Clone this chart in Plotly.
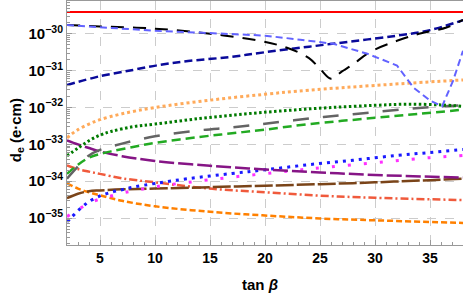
import plotly.graph_objects as go

# log10 of d_e (e·cm), as (tan beta, log10 value) lists
red_x = [2, 38]
red_y = [-29.41, -29.41]

lblue_x = [2, 5, 10, 15, 20, 23.2, 26.2, 29.3, 32, 33.5, 35, 36.1, 37.1, 38]
lblue_y = [-29.76, -29.82, -29.92, -29.98, -30.05, -30.16, -30.27, -30.54, -30.86, -31.46, -31.81, -31.97, -31.27, -30.46]

black_x = [2, 5, 10, 15, 19.5, 22, 24, 25, 26, 27, 28, 29.5, 32, 34, 36.5, 38]
black_y = [-29.76, -29.8, -29.86, -30.0, -30.19, -30.38, -30.66, -30.95, -31.22, -31.02, -30.83, -30.5, -30.19, -30.0, -29.83, -29.62]

navy_x = [2, 5, 8, 10.5, 13, 16.8, 20, 24, 28, 32, 35, 38]
navy_y = [-31.39, -31.15, -30.98, -30.84, -30.74, -30.63, -30.5, -30.35, -30.2, -30.05, -29.9, -29.63]

lorange_x = [2, 3, 4, 5, 7, 10, 15, 20, 24, 30, 38]
lorange_y = [-32.82, -32.6, -32.45, -32.33, -32.17, -32.0, -31.8, -31.64, -31.53, -31.4, -31.25]

dgreen_x = [2, 3, 4, 5, 6, 8, 10, 14, 18, 22, 26, 30, 33, 36, 38]
dgreen_y = [-33.31, -33.1, -32.9, -32.75, -32.65, -32.52, -32.45, -32.3, -32.18, -32.08, -32.0, -31.94, -31.91, -31.93, -31.97]

gray_x = [2, 3, 4, 5, 7, 10, 14, 17, 20, 24, 28, 33, 36, 38]
gray_y = [-33.93, -33.6, -33.3, -33.15, -32.98, -32.78, -32.62, -32.54, -32.44, -32.3, -32.18, -32.04, -31.97, -31.94]

green_x = [2, 3, 4, 5, 6, 8, 10, 14, 17, 20, 24, 30, 34, 38]
green_y = [-33.8, -33.55, -33.36, -33.26, -33.19, -33.07, -32.96, -32.8, -32.7, -32.6, -32.45, -32.28, -32.17, -32.06]

purple_x = [2, 3, 4, 5, 7, 10, 15, 20, 25, 30, 38]
purple_y = [-32.89, -33.0, -33.1, -33.19, -33.32, -33.45, -33.58, -33.68, -33.76, -33.83, -33.9]

tomato_x = [2, 3, 4, 5, 7, 10, 15, 20, 25, 30, 38]
tomato_y = [-33.57, -33.67, -33.74, -33.8, -33.92, -34.03, -34.2, -34.3, -34.39, -34.45, -34.51]

dorange_x = [2, 3, 4, 5, 7, 10, 15, 20, 25, 30, 38]
dorange_y = [-34.06, -34.2, -34.3, -34.38, -34.53, -34.68, -34.83, -34.93, -35.01, -35.06, -35.13]

brown_x = [2, 3, 4, 5, 7, 10, 15, 20, 25, 30, 35, 38]
brown_y = [-34.46, -34.34, -34.27, -34.25, -34.22, -34.2, -34.16, -34.12, -34.08, -34.03, -33.97, -33.93]

bdots_x = [2, 2.5, 3, 3.5, 4, 5, 6, 7, 8, 10, 13, 17, 20, 24, 28, 32, 35, 38]
bdots_y = [-35.1, -34.95, -34.8, -34.67, -34.55, -34.4, -34.3, -34.23, -34.16, -34.06, -33.93, -33.79, -33.69, -33.55, -33.43, -33.3, -33.22, -33.14]

mdots_x = [2, 3, 4, 5, 6, 7, 8, 10, 13, 17, 22, 26, 31, 35, 38]
mdots_y = [-34.96, -34.77, -34.6, -34.48, -34.4, -34.32, -34.26, -34.15, -34.03, -33.89, -33.73, -33.61, -33.47, -33.36, -33.3]

ytick_exp = [-35, -34, -33, -32, -31, -30]
xtick_vals = [5, 10, 15, 20, 25, 30, 35]

series = [
    (dorange_x, dorange_y, "#ff8000", "6px,3px", 2.5, "spline"),
    (tomato_x, tomato_y, "#f05a3c", "8px,3px,2px,3px", 2.5, "spline"),
    (brown_x, brown_y, "#7a4419", "18px,3px", 2.5, "spline"),
    (mdots_x, mdots_y, "#ff30ff", "3px,13px", 3, "spline"),
    (bdots_x, bdots_y, "#1a1aff", "3px,5px", 3, "spline"),
    (purple_x, purple_y, "#861586", "15px,4px", 2.5, "spline"),
    (green_x, green_y, "#22aa22", "9px,5px", 2.5, "spline"),
    (gray_x, gray_y, "#646464", "16px,14px", 2.5, "spline"),
    (dgreen_x, dgreen_y, "#007a00", "2.5px,2.5px", 3, "spline"),
    (lorange_x, lorange_y, "#ffaa5a", "3px,3px", 3, "spline"),
    (navy_x, navy_y, "#0a0a9a", "8px,4px", 2.5, "spline"),
    (black_x, black_y, "#000000", "13px,9px", 2, "spline"),
    (lblue_x, lblue_y, "#6262ff", "7px,4px", 2, "linear"),
    (red_x, red_y, "#ff0000", "solid", 2, "linear"),
]

fig = go.Figure()
for xs, ys, col, dash, w, shape in series:
    fig.add_trace(go.Scatter(
        x=xs, y=[10 ** v for v in ys], mode="lines",
        line=dict(color=col, dash=dash, width=w, shape=shape),
        showlegend=False, hoverinfo="skip"))

fig.update_layout(
    width=463, height=294,
    margin=dict(l=67, r=0, t=1, b=49),
    paper_bgcolor="white", plot_bgcolor="white",
    font=dict(family="Liberation Sans, Arial, sans-serif", size=14, color="black"),
)
fig.update_xaxes(
    range=[2, 38], tickvals=xtick_vals,
    ticktext=[f"<b>{v}</b>" for v in xtick_vals],
    ticks="inside", ticklen=5, tickcolor="#999999",
    showline=True, linecolor="#999999", linewidth=1, mirror=True,
    showgrid=True, gridcolor="#cccccc", griddash="dash", gridwidth=1,
    zeroline=False, tickfont=dict(size=14),
    minor=dict(dtick=1, ticks="inside", ticklen=3, tickcolor="#999999", showgrid=False),
)
fig.update_yaxes(
    type="log", range=[-35.73, -29.11],
    tickvals=[10 ** e for e in ytick_exp],
    ticktext=[f"<b>10<sup>\u2212{-e}</sup></b>" for e in ytick_exp],
    ticks="inside", ticklen=5, tickcolor="#999999",
    showline=True, linecolor="#999999", linewidth=1, mirror=True,
    showgrid=True, gridcolor="#cccccc", griddash="dash", gridwidth=1,
    zeroline=False, tickfont=dict(size=15),
    minor=dict(dtick="D1", ticks="inside", ticklen=3, tickcolor="#999999", showgrid=False),
)
fig.add_annotation(
    text="<b>d<sub>e</sub> (e\u00b7cm)</b>", xref="paper", yref="paper",
    x=-0.129, y=0.47, textangle=-90, showarrow=False,
    font=dict(size=15), xanchor="center", yanchor="middle")
fig.add_annotation(
    text="<b>tan <i>\u03b2</i></b>", xref="paper", yref="paper",
    x=0.487, y=-0.16, showarrow=False,
    font=dict(size=15), xanchor="center", yanchor="middle")

fig.write_html("out.html", config={"displayModeBar": False},
               post_script="document.body.style.margin='0';document.body.style.padding='0';")
